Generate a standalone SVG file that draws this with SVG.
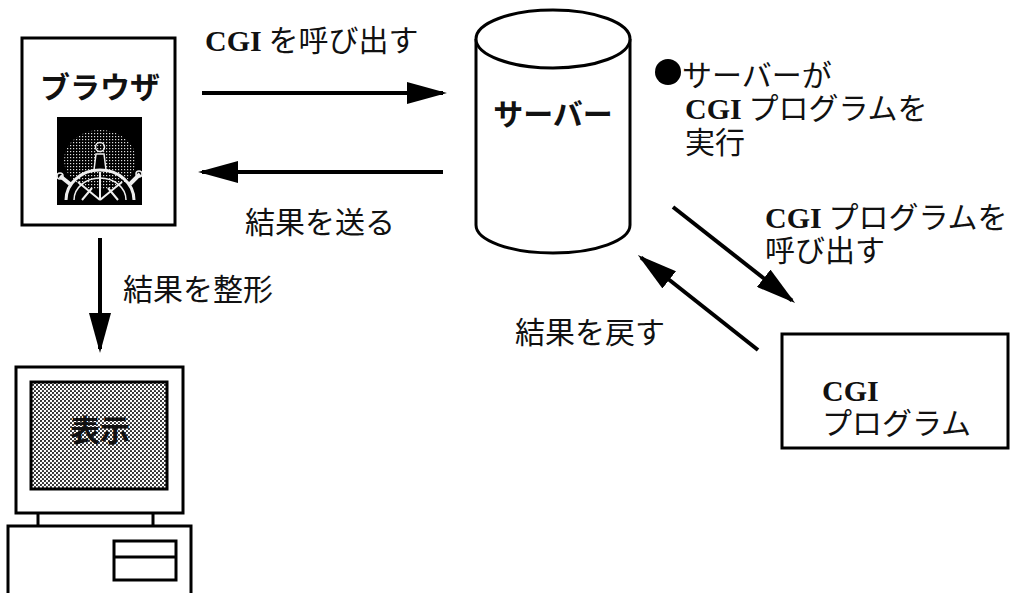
<svg xmlns="http://www.w3.org/2000/svg" width="1022" height="593" viewBox="0 0 1022 593">
  <style>
    .frame { fill: #fff; stroke: #000; stroke-width: 3; }
    .edge { fill: none; stroke: #000; stroke-width: 4; }
    .jp { font-family: "Noto Sans CJK JP", "Liberation Sans", sans-serif; font-size: 30px; fill: #111; }
    .title { font-family: "Noto Sans CJK JP", "Liberation Sans", sans-serif; font-size: 30px; font-weight: 700; fill: #111; }
    .rm { font-family: "Liberation Serif", "Noto Sans CJK JP", serif; font-weight: 700; }
  </style>
  <defs>
    <marker id="head" viewBox="0 0 10 5.5" refX="9" refY="2.75" markerWidth="10" markerHeight="5.5" orient="auto">
      <path d="M0,0 L10,2.75 L0,5.5 Z" fill="#000"/>
    </marker>
    <!-- halftone screen -->
    <pattern id="halftone" width="4" height="4" patternUnits="userSpaceOnUse">
      <rect width="4" height="4" fill="#fff"/>
      <circle cx="1" cy="1" r="1.1" fill="#222"/>
      <circle cx="3" cy="3" r="1.1" fill="#222"/>
    </pattern>
    <!-- white stipple inside the browser icon -->
    <pattern id="stipple" width="3" height="3" patternUnits="userSpaceOnUse">
      <rect x="1" y="1" width="1.2" height="1.2" fill="#ddd"/>
    </pattern>
  </defs>

  <!-- browser -->
  <g id="browser">
    <rect class="frame" x="22" y="38" width="153" height="187"/>
    <text class="title" x="100" y="98" text-anchor="middle">ブラウザ</text>
    <g id="browser-icon">
      <rect x="57" y="117" width="85" height="88" fill="#000"/>
      <ellipse cx="100" cy="160" rx="36" ry="30" fill="url(#stipple)"/>
      <!-- helmsman -->
      <circle cx="100" cy="147" r="4.5" fill="none" stroke="#eee" stroke-width="1.5"/>
      <path d="M94,170 L96,154 L104,154 L106,170 Z" fill="#000" stroke="#eee" stroke-width="1.5"/>
      <!-- ship wheel -->
      <path d="M66,200 A34,30 0 0 1 134,200" fill="none" stroke="#eee" stroke-width="3"/>
      <path d="M74,200 A26,22 0 0 1 126,200" fill="none" stroke="#eee" stroke-width="1.5"/>
      <path d="M100,200 L100,172 M100,200 L78,182 M100,200 L122,182 M82,200 L92,188 M118,200 L108,188" stroke="#eee" stroke-width="2" fill="none"/>
      <path d="M70,184 L60,176 M130,184 L140,174" stroke="#eee" stroke-width="4" fill="none"/>
      <circle cx="60" cy="176" r="3" fill="none" stroke="#eee" stroke-width="1.5"/>
      <circle cx="139" cy="174" r="3" fill="none" stroke="#eee" stroke-width="1.5"/>
    </g>
  </g>

  <!-- server -->
  <g id="server">
    <path class="frame" d="M476,39 L476,225 A77,28 0 0 0 630,225 L630,39"/>
    <ellipse class="frame" cx="553" cy="39" rx="77" ry="29"/>
    <text class="title" x="553" y="125" text-anchor="middle">サーバー</text>
  </g>

  <!-- server note -->
  <g id="server-note">
    <circle cx="668" cy="72" r="13" fill="#000"/>
    <text class="jp" x="682" y="86">サーバーが</text>
    <text class="jp" x="685" y="119"><tspan class="rm">CGI</tspan> プログラムを</text>
    <text class="jp" x="685" y="153">実行</text>
  </g>

  <!-- CGI program -->
  <g id="cgi-program">
    <rect class="frame" x="782" y="334" width="226" height="114"/>
    <text class="jp" x="822" y="401" font-size="31"><tspan class="rm">CGI</tspan></text>
    <text class="jp" x="822" y="434" font-size="31">プログラム</text>
  </g>

  <!-- display terminal -->
  <g id="display">
    <rect class="frame" x="16" y="367" width="167" height="146"/>
    <rect x="31" y="382" width="136" height="107" fill="url(#halftone)" stroke="#000" stroke-width="3"/>
    <text class="title" x="100" y="441" text-anchor="middle" font-size="29">表示</text>
    <path d="M38,513 L38,526 M153,513 L153,526" stroke="#000" stroke-width="3"/>
    <rect class="frame" x="8" y="526" width="183" height="80"/>
    <rect class="frame" x="114" y="541" width="62" height="39"/>
    <line x1="114" y1="557" x2="176" y2="557" stroke="#000" stroke-width="3"/>
  </g>

  <!-- connectors -->
  <g id="connectors">
    <line class="edge" x1="202" y1="93" x2="443" y2="93" marker-end="url(#head)"/>
    <line class="edge" x1="443" y1="172" x2="202" y2="172" marker-end="url(#head)"/>
    <line class="edge" x1="100" y1="238" x2="100" y2="349" marker-end="url(#head)"/>
    <line class="edge" x1="673" y1="207" x2="792" y2="300.5" marker-end="url(#head)"/>
    <line class="edge" x1="758" y1="350" x2="641" y2="257.5" marker-end="url(#head)"/>
  </g>

  <!-- connector labels -->
  <g id="labels">
    <text class="jp" x="205" y="51"><tspan class="rm">CGI</tspan> を呼び出す</text>
    <text class="jp" x="245" y="233">結果を送る</text>
    <text class="jp" x="123" y="300">結果を整形</text>
    <text class="jp" x="515" y="343">結果を戻す</text>
    <text class="jp" x="765" y="228"><tspan class="rm">CGI</tspan> プログラムを</text>
    <text class="jp" x="765" y="261">呼び出す</text>
  </g>
</svg>
